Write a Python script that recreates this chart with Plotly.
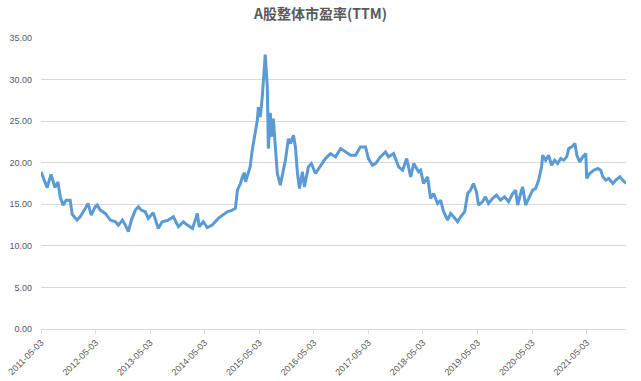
import plotly.graph_objects as go

dates = [
    "2011-05-03", "2011-05-30", "2011-06-13", "2011-07-09", "2011-08-05", "2011-08-25",
    "2011-09-08", "2011-09-28", "2011-10-18", "2011-11-14", "2011-11-28", "2011-12-30",
    "2012-01-20", "2012-02-23", "2012-03-13", "2012-04-03", "2012-04-30", "2012-05-13",
    "2012-06-03", "2012-07-06", "2012-08-09", "2012-09-12", "2012-10-02", "2012-10-29",
    "2012-11-18", "2012-12-08", "2012-12-28", "2013-01-24", "2013-02-13", "2013-03-04",
    "2013-03-31", "2013-04-20", "2013-05-23", "2013-06-26", "2013-07-22", "2013-09-01",
    "2013-10-05", "2013-11-08", "2013-12-11", "2014-01-07", "2014-02-10", "2014-03-01",
    "2014-03-14", "2014-03-27", "2014-04-23", "2014-05-20", "2014-06-22", "2014-08-02",
    "2014-08-29", "2014-10-01", "2014-11-04", "2014-11-24", "2014-12-08", "2014-12-28",
    "2015-01-10", "2015-01-24", "2015-01-31", "2015-02-13", "2015-03-03", "2015-03-17",
    "2015-04-06", "2015-04-20", "2015-04-27", "2015-05-10", "2015-05-23", "2015-06-06",
    "2015-06-12", "2015-06-26", "2015-07-03", "2015-07-16", "2015-07-23", "2015-08-05",
    "2015-08-19", "2015-09-01", "2015-09-21", "2015-10-05", "2015-10-25", "2015-11-14",
    "2015-11-28", "2015-12-18", "2015-12-31", "2016-01-14", "2016-01-27", "2016-02-16",
    "2016-02-29", "2016-03-27", "2016-04-16", "2016-05-13", "2016-06-03", "2016-06-29",
    "2016-07-19", "2016-08-22", "2016-09-25", "2016-10-29", "2016-12-01", "2017-01-04",
    "2017-02-06", "2017-03-10", "2017-04-13", "2017-05-03", "2017-05-30", "2017-06-19",
    "2017-07-22", "2017-08-25", "2017-09-14", "2017-10-18", "2017-11-21", "2017-12-18",
    "2018-01-14", "2018-02-10", "2018-03-02", "2018-04-03", "2018-04-17", "2018-05-07",
    "2018-06-03", "2018-06-23", "2018-07-13", "2018-08-09", "2018-08-29", "2018-09-18",
    "2018-10-15", "2018-11-04", "2018-11-24", "2018-12-21", "2019-01-10", "2019-02-06",
    "2019-02-26", "2019-03-17", "2019-04-06", "2019-04-26", "2019-05-10", "2019-06-05",
    "2019-06-25", "2019-07-15", "2019-08-11", "2019-09-07", "2019-10-04", "2019-10-31",
    "2019-11-27", "2019-12-24", "2020-01-13", "2020-01-27", "2020-02-16", "2020-02-29",
    "2020-03-20", "2020-04-09", "2020-05-06", "2020-05-26", "2020-06-15", "2020-07-05",
    "2020-07-12", "2020-08-01", "2020-08-21", "2020-09-10", "2020-09-30", "2020-10-20",
    "2020-11-10", "2020-11-30", "2020-12-20", "2021-01-03", "2021-01-23", "2021-02-13",
    "2021-02-26", "2021-03-17", "2021-04-06", "2021-04-27", "2021-05-03", "2021-05-23",
    "2021-06-19", "2021-07-16", "2021-08-05", "2021-08-19", "2021-09-08", "2021-09-28",
    "2021-10-25", "2021-11-14", "2021-12-11", "2021-12-31", "2022-01-21",
]

pe_ttm = [
    18.9, 17.6, 17.0, 18.6, 17.0, 17.7,
    15.9, 14.9, 15.5, 15.5, 13.8, 13.1,
    13.5, 14.5, 15.1, 13.7, 14.7, 14.9,
    14.3, 13.9, 13.1, 12.9, 12.5, 13.1,
    12.5, 11.7, 13.1, 14.3, 14.7, 14.3,
    14.1, 13.3, 14.0, 12.1, 12.9, 13.1,
    13.5, 12.3, 12.9, 12.5, 12.1, 13.1,
    13.9, 12.3, 12.9, 12.2, 12.5, 13.3,
    13.7, 14.1, 14.3, 14.5, 16.7, 17.5,
    18.3, 18.8, 17.7, 18.5, 19.5, 21.5,
    23.9, 25.1, 26.7, 25.5, 27.9, 31.5,
    33.0, 29.1, 21.7, 26.0, 23.1, 25.3,
    21.9, 18.7, 17.3, 18.7, 20.3, 22.9,
    22.3, 23.3, 21.9, 18.7, 16.9, 18.9,
    17.1, 19.5, 19.9, 18.7, 19.3, 19.9,
    20.5, 21.1, 20.7, 21.7, 21.3, 20.9,
    20.9, 21.9, 21.9, 20.5, 19.7, 19.9,
    20.7, 21.3, 20.7, 21.1, 19.5, 19.1,
    20.5, 18.3, 19.9, 18.9, 19.1, 17.5,
    18.3, 15.7, 16.3, 15.1, 15.5, 14.1,
    13.1, 13.9, 13.5, 12.9, 13.5, 14.1,
    16.3, 16.7, 17.5, 16.5, 14.9, 15.3,
    15.9, 15.1, 15.7, 16.1, 15.5, 15.9,
    15.3, 16.3, 16.7, 14.9, 16.3, 17.1,
    14.9, 15.7, 16.7, 16.9, 17.9, 19.5,
    20.9, 20.3, 20.9, 19.7, 20.3, 19.9,
    20.5, 20.3, 20.7, 21.7, 21.9, 22.3,
    20.9, 20.1, 20.7, 21.1, 18.1, 18.7,
    19.1, 19.3, 19.1, 18.3, 17.9, 18.1,
    17.5, 17.9, 18.3, 17.9, 17.5,
]

tick_dates = ["2011-05-03", "2012-05-03", "2013-05-03", "2014-05-03", "2015-05-03",
              "2016-05-03", "2017-05-03", "2018-05-03", "2019-05-03", "2020-05-03",
              "2021-05-03"]
y_ticks = [0, 5, 10, 15, 20, 25, 30, 35]

fig = go.Figure()
fig.add_trace(go.Scatter(
    x=dates, y=pe_ttm, mode="lines",
    line=dict(color="#5B9BD5", width=3),
    hoverinfo="x+y",
))

fig.update_layout(
    width=641, height=381,
    margin=dict(l=41, r=15, t=38, b=52, autoexpand=False),
    paper_bgcolor="white", plot_bgcolor="white",
    showlegend=False,
    title=dict(
        text="<b>A股整体市盈率(TTM)</b>",
        x=0.5, xanchor="center", y=0.963, yanchor="middle",
        font=dict(family="Noto Sans CJK SC", size=14, color="#595959"),
        automargin=False,
    ),
    font=dict(family="Liberation Sans", size=9, color="#595959"),
)
fig.update_xaxes(
    type="date",
    range=[dates[0], dates[-1]],
    tickvals=tick_dates, ticktext=tick_dates,
    tickangle=-45,
    showgrid=False,
    showline=True, linecolor="#D9D9D9", linewidth=1,
    ticks="outside", ticklen=4, tickcolor="#D9D9D9",
    tickfont=dict(size=9, color="#595959"),
    zeroline=False, automargin=False,
)
fig.update_yaxes(
    range=[0, 35],
    tickvals=y_ticks,
    tickformat=".2f",
    showgrid=True, gridcolor="#D9D9D9", gridwidth=1,
    zeroline=False, showline=False,
    ticks="", ticklabelstandoff=8,
    tickfont=dict(size=9, color="#595959"),
    automargin=False,
)

fig.write_html(
    "out.html",
    config={"displayModeBar": False},
    post_script="document.body.style.margin='0';document.body.style.padding='0';",
)
